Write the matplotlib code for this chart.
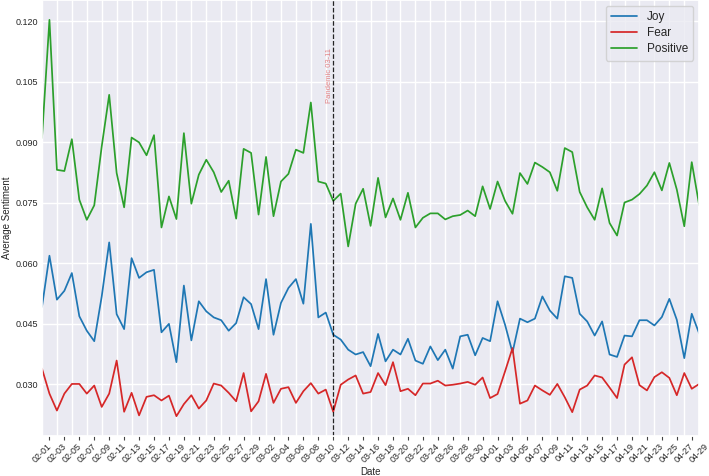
import numpy as np
import pandas as pd
import matplotlib
matplotlib.use("Agg")
import matplotlib.pyplot as plt
import seaborn as sns
from matplotlib.ticker import FixedLocator, FormatStrFormatter

dates = pd.date_range("2020-02-01", "2020-04-29").strftime("%m-%d").tolist()

joy = [0.0492, 0.0619, 0.0510, 0.0532, 0.0576, 0.0469, 0.0433, 0.0407, 0.0518, 0.0652,
       0.0474, 0.0437, 0.0613, 0.0564, 0.0578, 0.0584, 0.0429, 0.0450, 0.0355, 0.0545,
       0.0409, 0.0506, 0.0481, 0.0466, 0.0459, 0.0433, 0.0452, 0.0516, 0.0499, 0.0437,
       0.0561, 0.0423, 0.0502, 0.0539, 0.0561, 0.0500, 0.0698, 0.0466, 0.0478, 0.0423,
       0.0411, 0.0386, 0.0374, 0.0380, 0.0345, 0.0425, 0.0357, 0.0386, 0.0374, 0.0413,
       0.0359, 0.0351, 0.0394, 0.0360, 0.0386, 0.0339, 0.0419, 0.0423, 0.0372, 0.0415,
       0.0407, 0.0506, 0.0448, 0.0379, 0.0463, 0.0454, 0.0463, 0.0518, 0.0483, 0.0463,
       0.0568, 0.0564, 0.0475, 0.0456, 0.0421, 0.0456, 0.0374, 0.0368, 0.0421, 0.0419,
       0.0459, 0.0459, 0.0446, 0.0467, 0.0512, 0.0460, 0.0365, 0.0475, 0.0426]

fear = [0.0339, 0.0277, 0.0235, 0.0277, 0.0301, 0.0301, 0.0277, 0.0297, 0.0244, 0.0277,
        0.0359, 0.0232, 0.0279, 0.0223, 0.0269, 0.0273, 0.0260, 0.0272, 0.0221, 0.0251,
        0.0273, 0.0240, 0.0260, 0.0302, 0.0297, 0.0279, 0.0258, 0.0328, 0.0233, 0.0258,
        0.0326, 0.0254, 0.0289, 0.0293, 0.0254, 0.0283, 0.0303, 0.0277, 0.0287, 0.0232,
        0.0299, 0.0312, 0.0322, 0.0277, 0.0281, 0.0328, 0.0298, 0.0355, 0.0283, 0.0289,
        0.0273, 0.0302, 0.0302, 0.0309, 0.0297, 0.0299, 0.0302, 0.0306, 0.0299, 0.0317,
        0.0266, 0.0276, 0.0332, 0.0390, 0.0252, 0.0260, 0.0297, 0.0285, 0.0274, 0.0301,
        0.0268, 0.0231, 0.0287, 0.0297, 0.0322, 0.0317, 0.0292, 0.0266, 0.0349, 0.0367,
        0.0298, 0.0285, 0.0318, 0.0330, 0.0316, 0.0273, 0.0328, 0.0289, 0.0301]

positive = [0.0911, 0.1204, 0.0832, 0.0829, 0.0908, 0.0758, 0.0708, 0.0744, 0.0890, 0.1018,
            0.0824, 0.0739, 0.0912, 0.0900, 0.0868, 0.0918, 0.0689, 0.0766, 0.0710, 0.0923,
            0.0748, 0.0820, 0.0857, 0.0826, 0.0777, 0.0805, 0.0711, 0.0884, 0.0874, 0.0721,
            0.0864, 0.0717, 0.0803, 0.0822, 0.0882, 0.0874, 0.0999, 0.0803, 0.0798, 0.0755,
            0.0773, 0.0642, 0.0748, 0.0785, 0.0693, 0.0812, 0.0714, 0.0761, 0.0708, 0.0775,
            0.0689, 0.0713, 0.0724, 0.0724, 0.0709, 0.0717, 0.0720, 0.0731, 0.0717, 0.0791,
            0.0735, 0.0803, 0.0755, 0.0723, 0.0824, 0.0797, 0.0850, 0.0839, 0.0826, 0.0780,
            0.0886, 0.0876, 0.0777, 0.0739, 0.0708, 0.0786, 0.0700, 0.0669, 0.0751, 0.0758,
            0.0772, 0.0793, 0.0826, 0.0781, 0.0849, 0.0783, 0.0692, 0.0851, 0.0744]

event_date = "03-11"
event_label = "Pandemic 03-11"

sns.set_theme(style="darkgrid")
plt.rcParams["font.family"] = ["Liberation Sans", "DejaVu Sans"]

fig = plt.figure(figsize=(7.09, 4.76), dpi=100)
ax = fig.add_axes([0.0592, 0.084, 0.927, 0.916])

x = np.arange(len(dates))
ax.plot(x, joy, color="#1f77b4", lw=1.25, label="Joy")
ax.plot(x, fear, color="#d62728", lw=1.25, label="Fear")
ax.plot(x, positive, color="#2ca02c", lw=1.25, label="Positive")

ev = dates.index(event_date)
ax.axvline(ev, color="black", linestyle="--", lw=0.9, alpha=0.85)
ax.text(ev - 0.5, 0.0998, event_label, rotation=90, color="#d62728", alpha=0.55,
        fontsize=5.5, ha="center", va="bottom")

ax.set_xlim(0, len(dates) - 1)
ax.margins(y=0.05)
ax.xaxis.set_major_locator(FixedLocator(x[::2]))
ax.set_xticklabels(dates[::2], rotation=45, ha="center", fontsize=6.5)
ax.xaxis.set_minor_locator(FixedLocator(x[1::2]))
ax.tick_params(axis="x", which="major", length=0, pad=4)
ax.tick_params(axis="x", which="minor", bottom=True, length=3, width=0.8, color="#444444")
ax.grid(which="minor", visible=False)
ax.yaxis.set_major_locator(FixedLocator([0.030, 0.045, 0.060, 0.075, 0.090, 0.105, 0.120]))
ax.yaxis.set_major_formatter(FormatStrFormatter("%.3f"))
ax.tick_params(axis="y", labelsize=6.5, length=0, pad=3)

ax.set_xlabel("Date", fontsize=7, labelpad=2)
ax.set_ylabel("Average Sentiment", fontsize=7, labelpad=2)

ax.legend(loc="upper right", fontsize=8.5, handlelength=2.2, borderpad=0.45,
          labelspacing=0.35)

fig.savefig("out.png", dpi=100)
